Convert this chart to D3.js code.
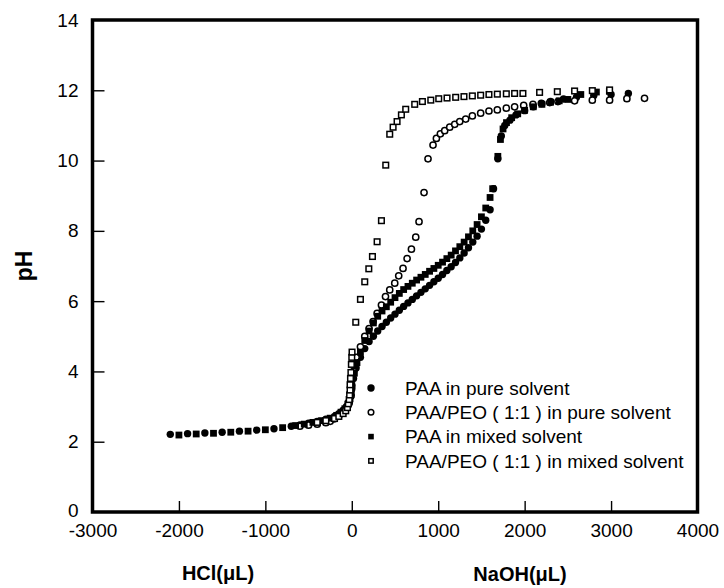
<!DOCTYPE html>
<html>
<head>
<meta charset="utf-8">
<script src="https://cdn.jsdelivr.net/npm/d3@7"></script>
<style>
  html, body { margin: 0; padding: 0; background: #fff; }
  svg { display: block; }
  text { font-family: "Liberation Sans", Arial, sans-serif; fill: #000; }
</style>
</head>
<body>
<svg id="chart" width="724" height="588"></svg>
<script>
// Titration curves: volume of titrant (HCl negative, NaOH positive, µL) vs pH
const xTicks = [-3000, -2000, -1000, 0, 1000, 2000, 3000, 4000];
const yTicks = [0, 2, 4, 6, 8, 10, 12, 14];

const seriesNames = [
  "PAA in pure solvent",
  "PAA/PEO ( 1:1 ) in pure solvent",
  "PAA in mixed solvent",
  "PAA/PEO ( 1:1 ) in mixed solvent"
];

// PAA in pure solvent: [volume µL, pH]
const paaPure = [
  [-2100,2.21],[-1900,2.23],[-1700,2.25],[-1500,2.27],[-1300,2.3],[-1100,2.33],[-900,2.37],
  [-700,2.44],[-600,2.48],[-500,2.53],[-400,2.58],[-300,2.64],[-200,2.72],[-150,2.8],
  [-100,2.9],[-60,3.0],[-30,3.15],[-10,3.3],
  [0,3.5],[20,3.8],[50,4.1],[100,4.4],[150,4.65],[200,4.85],[250,5.0],[300,5.15],[350,5.28],
  [400,5.4],[450,5.52],[500,5.63],[550,5.74],[600,5.85],[650,5.95],[700,6.05],[750,6.15],
  [800,6.25],[850,6.35],[900,6.45],[950,6.55],[1000,6.65],[1050,6.76],[1100,6.87],[1150,6.98],
  [1200,7.1],[1250,7.23],[1300,7.37],[1350,7.52],[1400,7.68],[1450,7.85],[1500,8.05],
  [1550,8.3],[1600,8.6],[1640,9.2],[1690,10.05],[1730,10.7],[1770,11.0],[1830,11.15],
  [1900,11.3],[2000,11.42],[2100,11.53],[2200,11.62],[2300,11.68],[2450,11.75],[2600,11.8],
  [2800,11.85],[3000,11.88],[3200,11.91]
];

// PAA/PEO (1:1) in pure solvent
const blendPure = [
  [-600,2.44],[-500,2.47],[-400,2.5],[-300,2.54],[-250,2.58],[-200,2.65],[-150,2.74],
  [-100,2.85],[-60,2.98],[-30,3.1],[-10,3.3],[0,3.6],[20,4.0],[50,4.4],
  [100,4.7],[150,5.0],[200,5.22],[246,5.42],[293,5.65],[343,5.89],[390,6.13],[439,6.32],
  [497,6.51],[543,6.72],[593,6.93],[640,7.21],[690,7.48],[740,7.82],[778,8.26],[836,9.09],
  [882,10.05],[940,10.44],[979,10.63],[1025,10.76],[1075,10.85],[1133,10.95],[1191,11.03],
  [1249,11.11],[1318,11.18],[1395,11.27],[1491,11.35],[1587,11.41],[1684,11.44],[1788,11.49],
  [1884,11.53],[1989,11.57],[2096,11.6],[2193,11.63],[2290,11.65],[2385,11.68],[2578,11.7],
  [2783,11.72],[2983,11.72],[3183,11.76],[3387,11.77]
];

// PAA in mixed solvent
const paaMixed = [
  [-2000,2.19],[-1800,2.22],[-1600,2.24],[-1400,2.27],[-1200,2.3],[-1000,2.34],[-800,2.4],
  [-650,2.46],[-550,2.5],[-450,2.55],[-350,2.6],[-250,2.67],[-175,2.75],[-125,2.84],
  [-80,2.94],[-45,3.06],[-20,3.22],[-5,3.4],
  [0,3.6],[30,3.95],[60,4.25],[100,4.55],[150,4.88],[200,5.15],[250,5.38],[300,5.57],
  [350,5.72],[400,5.84],[450,5.97],[500,6.1],[550,6.22],[600,6.33],[650,6.42],[700,6.51],
  [750,6.6],[800,6.68],[850,6.76],[900,6.85],[950,6.93],[1000,7.02],[1050,7.11],[1100,7.21],
  [1150,7.31],[1200,7.43],[1250,7.55],[1300,7.68],[1350,7.83],[1400,8.0],[1450,8.18],
  [1500,8.4],[1550,8.65],[1600,8.95],[1630,9.2],[1690,10.12],[1720,10.6],[1750,10.9],
  [1790,11.08],[1850,11.22],[1920,11.33],[2000,11.43],[2100,11.53],[2200,11.6],[2300,11.66],
  [2400,11.7],[2500,11.74],[2650,11.88],[2830,11.95],[2980,11.97]
];

// PAA/PEO (1:1) in mixed solvent
const blendMixed = [
  [-400,2.55],[-300,2.6],[-200,2.66],[-150,2.72],[-100,2.8],[-70,2.88],[-50,2.97],[-40,3.08],
  [-30,3.2],[-25,3.33],[-20,3.47],[-20,3.62],[-15,3.8],[-10,3.97],[-5,4.2],[0,4.4],[3,4.55],
  [46,5.4],[100,6.05],[150,6.55],[197,6.92],[239,7.27],[293,7.69],[343,8.29],[393,9.87],
  [439,10.75],[478,10.95],[524,11.11],[574,11.3],[624,11.46],[728,11.6],[817,11.68],
  [914,11.72],[1006,11.76],[1102,11.78],[1202,11.8],[1298,11.82],[1395,11.84],[1491,11.86],
  [1587,11.88],[1684,11.89],[1788,11.9],[1884,11.91],[1980,11.91],[2173,11.94],[2378,11.96],
  [2578,11.98],[2783,11.99],[2983,12.01]
];

const seriesData = [paaPure, blendPure, paaMixed, blendMixed];
const seriesShape = ["circle", "circle", "square", "square"];
const seriesFilled = [true, false, true, false];

const svg = d3.select("#chart");
const plot = { left: 92.5, right: 697.5, top: 20, bottom: 512 };

const x = d3.scaleLinear().domain([-3000, 4000]).range([plot.left, plot.right]);
const y = d3.scaleLinear().domain([0, 14]).range([plot.bottom, plot.top]);

// Bottom axis: ticks point inward (upward)
const xAxis = svg.append("g")
  .attr("transform", `translate(0,${plot.bottom})`)
  .call(d3.axisBottom(x).tickValues(xTicks).tickSizeInner(-11).tickSizeOuter(0)
    .tickPadding(12).tickFormat(d => String(d)));
xAxis.select(".domain").remove();
xAxis.selectAll(".tick line").attr("stroke", "#000").attr("stroke-width", 1.4);
xAxis.selectAll(".tick text")
  .attr("font-size", 19).attr("font-family", "Liberation Sans, Arial, sans-serif");
// end ticks coincide with the frame; hide them
xAxis.selectAll(".tick").filter(d => d === -3000 || d === 4000).select("line").remove();

// Left axis: ticks point inward (rightward)
const yAxis = svg.append("g")
  .attr("transform", `translate(${plot.left},0)`)
  .call(d3.axisLeft(y).tickValues(yTicks).tickSizeInner(-12).tickSizeOuter(0)
    .tickPadding(14).tickFormat(d => String(d)));
yAxis.select(".domain").remove();
yAxis.selectAll(".tick line").attr("stroke", "#000").attr("stroke-width", 1.4);
yAxis.selectAll(".tick text")
  .attr("font-size", 19).attr("font-family", "Liberation Sans, Arial, sans-serif");
yAxis.selectAll(".tick").filter(d => d === 0 || d === 14).select("line").remove();
// keep the zero label clear of the first x label
yAxis.selectAll(".tick").filter(d => d === 0).select("text").attr("dy", "0.22em");

// Frame
svg.append("rect")
  .attr("x", plot.left).attr("y", plot.top)
  .attr("width", plot.right - plot.left).attr("height", plot.bottom - plot.top)
  .attr("fill", "none").attr("stroke", "#000").attr("stroke-width", 3.5);

// Markers
const circleR = 3.7;
const squareS = 6.8;

function drawMarker(g, shape, filled, cx, cy, size) {
  const fill = filled ? "#000" : "#fff";
  if (shape === "circle") {
    g.append("circle").attr("cx", cx).attr("cy", cy).attr("r", filled ? size.r : size.r - 0.6)
      .attr("fill", fill).attr("stroke", "#000").attr("stroke-width", filled ? 0 : 1.5);
  } else {
    const s = filled ? size.s : size.s - 1.2;
    g.append("rect").attr("x", cx - s / 2).attr("y", cy - s / 2)
      .attr("width", s).attr("height", s)
      .attr("fill", fill).attr("stroke", "#000").attr("stroke-width", filled ? 0 : 1.5);
  }
}

const marks = svg.append("g");
seriesData.forEach((data, i) => {
  const g = marks.append("g").attr("class", "series-" + i);
  data.forEach(([v, p]) => {
    drawMarker(g, seriesShape[i], seriesFilled[i], x(v), y(p), { r: circleR, s: squareS });
  });
});

// Legend
const legend = svg.append("g").attr("transform", "translate(371,388)");
seriesNames.forEach((name, i) => {
  const row = legend.append("g").attr("transform", `translate(0,${i * 24.3})`);
  drawMarker(row, seriesShape[i], seriesFilled[i], 0, 0,
    { r: i === 0 ? 3.7 : 3.4, s: 5.6 });
  row.append("text").attr("x", 34).attr("y", 0).attr("dy", "0.35em")
    .attr("font-size", 19).text(name);
});

// Axis titles
svg.append("text").attr("x", 218).attr("y", 580).attr("text-anchor", "middle")
  .attr("font-size", 20).attr("font-weight", "bold").text("HCl(μL)");
svg.append("text").attr("x", 520).attr("y", 581).attr("text-anchor", "middle")
  .attr("font-size", 20).attr("font-weight", "bold").text("NaOH(μL)");
svg.append("text")
  .attr("transform", `translate(32,${(plot.top + plot.bottom) / 2}) rotate(-90)`)
  .attr("text-anchor", "middle").attr("font-size", 23).attr("font-weight", "bold").text("pH");
</script>
</body>
</html>
